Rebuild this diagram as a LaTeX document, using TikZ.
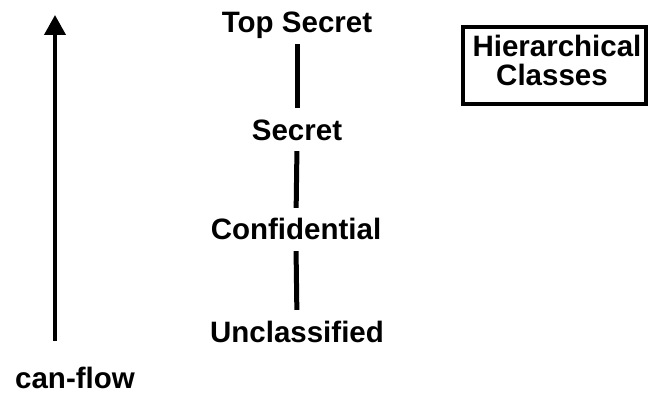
\documentclass[tikz,border=0pt]{standalone}
\usepackage{fontspec}
\setmainfont{Liberation Sans}
\usetikzlibrary{arrows.meta}
\tikzset{
  lbl/.style={font=\fontsize{29.5}{34}\selectfont\bfseries, inner sep=0pt, anchor=base, text height=21pt, text depth=6pt},
  link/.style={line width=5pt, shorten <=5pt, shorten >=11pt},
  flow/.style={line width=4pt, -{Triangle[width=21pt,length=20pt]}},
  frame/.style={draw, line width=4pt, minimum width=183pt, minimum height=77pt, inner sep=0pt}
}
\begin{document}
\begin{tikzpicture}[x=1pt,y=-1pt]
\path[use as bounding box] (0,0) rectangle (649,396);
\node[lbl] (ts) at (297,33) {Top Secret};
\node[lbl] (s) at (297,140) {Secret};
\node[lbl] (c) at (296,240) {Confidential};
\node[lbl] (u) at (297,342) {Unclassified};
\node[lbl] (cf) at (75,388) {can-flow};
\draw[link] (ts.south) -- (s.north);
\draw[link] (s.south) -- (c.north);
\draw[link] (c.south) -- (u.north);
\coordinate (abot) at (55,341);
\coordinate (atop) at (55,15);
\draw[flow] (abot) -- (atop);
\node[frame] (box) at (554.5,65.5) {};
\node[lbl] (h1) at (557,57) {Hierarchical};
\node[lbl] (h2) at (552,86) {Classes};
\end{tikzpicture}
\end{document}
